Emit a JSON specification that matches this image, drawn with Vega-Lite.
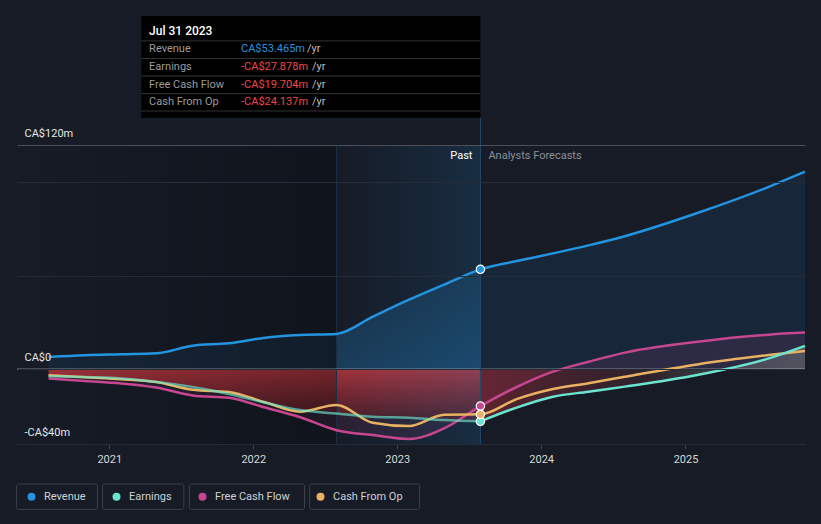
{
  "$schema": "https://vega.github.io/schema/vega-lite/v6.json",
  "width": 788,
  "height": 299,
  "autosize": {"type": "none"},
  "padding": {"left": 17, "top": 145, "right": 16, "bottom": 80},
  "background": "#161b26",
  "config": {
    "font": "Roboto",
    "view": {"stroke": null},
    "legend": {
      "orient": "none", "legendX": 9, "legendY": 346, "direction": "horizontal",
      "title": null, "symbolType": "circle", "symbolSize": 64, "symbolStrokeWidth": 0,
      "labelColor": "#cfd2d6", "labelFontSize": 11, "labelOffset": 7, "columnPadding": 25,
      "padding": 0, "labelFont": "Roboto"
    }
  },
  "datasets": {
    "ts": [
      {"date": "2020-07-31", "series": "Revenue", "value": 6.6},
      {"date": "2020-10-31", "series": "Revenue", "value": 7.5},
      {"date": "2021-01-31", "series": "Revenue", "value": 8.0},
      {"date": "2021-04-30", "series": "Revenue", "value": 8.5},
      {"date": "2021-07-31", "series": "Revenue", "value": 12.6},
      {"date": "2021-10-31", "series": "Revenue", "value": 13.9},
      {"date": "2022-01-31", "series": "Revenue", "value": 16.9},
      {"date": "2022-04-30", "series": "Revenue", "value": 18.3},
      {"date": "2022-07-31", "series": "Revenue", "value": 18.9},
      {"date": "2022-10-31", "series": "Revenue", "value": 28.1},
      {"date": "2023-01-31", "series": "Revenue", "value": 37.2},
      {"date": "2023-04-30", "series": "Revenue", "value": 45.3},
      {"date": "2023-07-31", "series": "Revenue", "value": 53.465},
      {"date": "2023-10-31", "series": "Revenue", "value": 57.9},
      {"date": "2024-01-31", "series": "Revenue", "value": 62.0},
      {"date": "2024-04-30", "series": "Revenue", "value": 66.3},
      {"date": "2024-07-31", "series": "Revenue", "value": 71.2},
      {"date": "2025-01-31", "series": "Revenue", "value": 83.6},
      {"date": "2025-07-31", "series": "Revenue", "value": 97.6},
      {"date": "2025-10-31", "series": "Revenue", "value": 105.7},
      {"date": "2020-07-31", "series": "Earnings", "value": -3.7},
      {"date": "2020-10-31", "series": "Earnings", "value": -4.2},
      {"date": "2021-01-31", "series": "Earnings", "value": -4.9},
      {"date": "2021-04-30", "series": "Earnings", "value": -6.8},
      {"date": "2021-07-31", "series": "Earnings", "value": -9.5},
      {"date": "2021-10-31", "series": "Earnings", "value": -13.2},
      {"date": "2022-01-31", "series": "Earnings", "value": -17.9},
      {"date": "2022-04-30", "series": "Earnings", "value": -21.8},
      {"date": "2022-07-31", "series": "Earnings", "value": -23.7},
      {"date": "2022-10-31", "series": "Earnings", "value": -25.4},
      {"date": "2023-01-31", "series": "Earnings", "value": -25.9},
      {"date": "2023-04-30", "series": "Earnings", "value": -27.2},
      {"date": "2023-07-31", "series": "Earnings", "value": -27.878},
      {"date": "2023-10-31", "series": "Earnings", "value": -20.5},
      {"date": "2024-01-31", "series": "Earnings", "value": -14.7},
      {"date": "2024-04-30", "series": "Earnings", "value": -12.0},
      {"date": "2024-07-31", "series": "Earnings", "value": -9.3},
      {"date": "2025-01-31", "series": "Earnings", "value": -3.1},
      {"date": "2025-07-31", "series": "Earnings", "value": 5.8},
      {"date": "2025-10-31", "series": "Earnings", "value": 12.5},
      {"date": "2020-07-31", "series": "Free Cash Flow", "value": -5.0},
      {"date": "2020-10-31", "series": "Free Cash Flow", "value": -6.3},
      {"date": "2021-01-31", "series": "Free Cash Flow", "value": -7.6},
      {"date": "2021-04-30", "series": "Free Cash Flow", "value": -9.8},
      {"date": "2021-07-31", "series": "Free Cash Flow", "value": -14.0},
      {"date": "2021-10-31", "series": "Free Cash Flow", "value": -15.3},
      {"date": "2022-01-31", "series": "Free Cash Flow", "value": -20.5},
      {"date": "2022-04-30", "series": "Free Cash Flow", "value": -25.7},
      {"date": "2022-07-31", "series": "Free Cash Flow", "value": -32.6},
      {"date": "2022-10-31", "series": "Free Cash Flow", "value": -35.2},
      {"date": "2023-01-31", "series": "Free Cash Flow", "value": -37.3},
      {"date": "2023-04-30", "series": "Free Cash Flow", "value": -31.6},
      {"date": "2023-07-31", "series": "Free Cash Flow", "value": -19.704},
      {"date": "2023-10-31", "series": "Free Cash Flow", "value": -9.5},
      {"date": "2024-01-31", "series": "Free Cash Flow", "value": -1.3},
      {"date": "2024-04-30", "series": "Free Cash Flow", "value": 4.0},
      {"date": "2024-07-31", "series": "Free Cash Flow", "value": 8.9},
      {"date": "2025-01-31", "series": "Free Cash Flow", "value": 14.7},
      {"date": "2025-07-31", "series": "Free Cash Flow", "value": 18.5},
      {"date": "2025-10-31", "series": "Free Cash Flow", "value": 19.6},
      {"date": "2020-07-31", "series": "Cash From Op", "value": -3.2},
      {"date": "2020-10-31", "series": "Cash From Op", "value": -4.3},
      {"date": "2021-01-31", "series": "Cash From Op", "value": -5.3},
      {"date": "2021-04-30", "series": "Cash From Op", "value": -6.8},
      {"date": "2021-07-31", "series": "Cash From Op", "value": -11.0},
      {"date": "2021-10-31", "series": "Cash From Op", "value": -12.2},
      {"date": "2022-01-31", "series": "Cash From Op", "value": -17.7},
      {"date": "2022-04-30", "series": "Cash From Op", "value": -22.7},
      {"date": "2022-07-31", "series": "Cash From Op", "value": -19.1},
      {"date": "2022-10-31", "series": "Cash From Op", "value": -28.6},
      {"date": "2023-01-31", "series": "Cash From Op", "value": -30.4},
      {"date": "2023-04-30", "series": "Cash From Op", "value": -24.3},
      {"date": "2023-07-31", "series": "Cash From Op", "value": -24.137},
      {"date": "2023-10-31", "series": "Cash From Op", "value": -16.0},
      {"date": "2024-01-31", "series": "Cash From Op", "value": -10.6},
      {"date": "2024-04-30", "series": "Cash From Op", "value": -7.5},
      {"date": "2024-07-31", "series": "Cash From Op", "value": -4.0},
      {"date": "2025-01-31", "series": "Cash From Op", "value": 2.6},
      {"date": "2025-07-31", "series": "Cash From Op", "value": 7.6},
      {"date": "2025-10-31", "series": "Cash From Op", "value": 9.8}
    ],
    "tip": [
      {"date": "2023-07-31", "series": "Revenue", "value": 53.465, "label": "Revenue", "val": "CA$53.465m", "ty": 171.4},
      {"date": "2023-07-31", "series": "Earnings", "value": -27.878, "label": "Earnings", "val": "-CA$27.878m", "ty": 161.8},
      {"date": "2023-07-31", "series": "Free Cash Flow", "value": -19.704, "label": "Free Cash Flow", "val": "-CA$19.704m", "ty": 152.1},
      {"date": "2023-07-31", "series": "Cash From Op", "value": -24.137, "label": "Cash From Op", "val": "-CA$24.137m", "ty": 143.0}
    ],
    "seps": [{"sy": 175.7}, {"sy": 166.3}, {"sy": 156.9}, {"sy": 147.5}, {"sy": 138.2}],
    "boxes": [
      {"b0": "2020-05-11", "b1": "2020-12-02"},
      {"b0": "2020-12-15", "b1": "2021-07-09"},
      {"b0": "2021-07-23", "b1": "2022-05-11"},
      {"b0": "2022-05-24", "b1": "2023-02-27"}
    ],
    "one": [{}]
  },
  "layer": [
    {
      "data": {"name": "ts"},
      "transform": [{"filter": "datum.series === 'Revenue'"}],
      "mark": {"type": "area", "interpolate": "monotone", "color": "#2394df", "opacity": 0.1},
      "encoding": {
        "x": {
          "field": "date", "type": "temporal",
          "scale": {"domain": [1589241600000, 1761868800000]},
          "axis": {
            "format": "%Y", "tickCount": {"interval": "year", "step": 1}, "grid": false,
            "domainColor": "#3c414b", "tickColor": "#3c414b", "tickSize": 5,
            "labelColor": "#d9d9d9", "labelFontSize": 11, "labelPadding": 4, "title": null, "labelFlush": false
          }
        },
        "y": {
          "field": "value", "type": "quantitative",
          "scale": {"domain": [-40, 120], "nice": false, "zero": false},
          "axis": {
            "values": [-40, 0, 50, 100, 120], "grid": true,
            "gridColor": {"condition": {"test": "datum.value === 120", "value": "#4a4f59"}, "value": "#262c37"},
            "labelExpr": "datum.value === 120 ? 'CA$120m' : datum.value === 0 ? 'CA$0' : datum.value === -40 ? '-CA$40m' : ''",
            "domain": false, "ticks": false, "labelAlign": "left", "labelPadding": -7,
            "labelBaseline": "alphabetic", "labelOffset": -9, "labelColor": "#e6e6e6",
            "labelFontSize": 11, "title": null, "zindex": 1, "labelFlush": false, "labelOverlap": false, "labelBound": false
          }
        },
        "y2": {"datum": 0}
      }
    },
    {
      "data": {"name": "ts"},
      "transform": [{"filter": "datum.series === 'Free Cash Flow'"}],
      "mark": {"type": "area", "interpolate": "monotone", "color": "#c6478f", "opacity": 0.12},
      "encoding": {
        "x": {"field": "date", "type": "temporal"},
        "y": {"field": "value", "type": "quantitative"},
        "y2": {"datum": 0}
      }
    },
    {
      "data": {"name": "ts"},
      "transform": [{"filter": "datum.series === 'Earnings' && time(datum.date) <= time('2023-07-31')"}],
      "mark": {
        "type": "area", "interpolate": "monotone",
        "fill": {"gradient": "linear", "x1": 0, "y1": 0, "x2": 0, "y2": 1,
          "stops": [{"offset": 0, "color": "#a1313a"}, {"offset": 1, "color": "#421c26"}]}
      },
      "encoding": {
        "x": {"field": "date", "type": "temporal"},
        "y": {"field": "value", "type": "quantitative"},
        "y2": {"datum": 0}
      }
    },
    {
      "data": {"name": "ts"},
      "transform": [{"filter": "datum.series === 'Earnings' && time(datum.date) >= time('2023-07-31')"}],
      "mark": {
        "type": "area", "interpolate": "monotone",
        "fill": {"gradient": "linear", "x1": 0, "y1": 0, "x2": 1, "y2": 0,
          "stops": [
            {"offset": 0, "color": "rgba(160,42,52,0.5)"},
            {"offset": 0.5, "color": "rgba(120,50,60,0.25)"},
            {"offset": 0.7, "color": "rgba(128,128,128,0.3)"},
            {"offset": 1, "color": "rgba(128,128,128,0.45)"}
          ]}
      },
      "encoding": {
        "x": {"field": "date", "type": "temporal"},
        "y": {"field": "value", "type": "quantitative"},
        "y2": {"datum": 0}
      }
    },
    {
      "data": {"name": "one"},
      "mark": {
        "type": "rect",
        "fill": {"gradient": "linear", "x1": 0, "y1": 0, "x2": 1, "y2": 0,
          "stops": [{"offset": 0, "color": "rgba(0,0,0,0)"}, {"offset": 1, "color": "rgba(0,0,0,0.28)"}]}
      },
      "encoding": {
        "x": {"datum": 1589241600000, "type": "temporal"},
        "x2": {"datum": 1659225600000},
        "y": {"datum": 120},
        "y2": {"datum": -40}
      }
    },
    {
      "data": {"name": "one"},
      "mark": {
        "type": "rect",
        "fill": {"gradient": "linear", "x1": 0, "y1": 0, "x2": 1, "y2": 0,
          "stops": [{"offset": 0, "color": "rgba(35,148,223,0.0)"}, {"offset": 1, "color": "rgba(35,148,223,0.15)"}]}
      },
      "encoding": {
        "x": {"datum": 1659225600000, "type": "temporal"},
        "x2": {"datum": 1690761600000},
        "y": {"datum": 120},
        "y2": {"datum": -40}
      }
    },
    {
      "data": {"name": "ts"},
      "transform": [{"filter": "datum.series === 'Revenue' && time(datum.date) >= time('2022-07-31') && time(datum.date) <= time('2023-07-31')"}],
      "mark": {
        "type": "area", "interpolate": "monotone",
        "fill": {"gradient": "linear", "x1": 0, "y1": 0, "x2": 0, "y2": 1,
          "stops": [{"offset": 0, "color": "rgba(35,148,223,0.06)"}, {"offset": 1, "color": "rgba(35,148,223,0.2)"}]}
      },
      "encoding": {
        "x": {"field": "date", "type": "temporal"},
        "y": {"field": "value", "type": "quantitative"},
        "y2": {"datum": 0}
      }
    },
    {
      "data": {"name": "one"},
      "mark": {"type": "rule", "color": "#1b3045", "strokeWidth": 1},
      "encoding": {
        "x": {"datum": 1659225600000, "type": "temporal"},
        "y": {"datum": 120},
        "y2": {"datum": -40}
      }
    },
    {
      "data": {"name": "one"},
      "mark": {"type": "rule", "color": "#ffffff", "opacity": 0.85, "strokeWidth": 1},
      "encoding": {"y": {"datum": 0}}
    },
    {
      "data": {"name": "ts"},
      "transform": [{"filter": "datum.series !== 'Earnings'"}],
      "mark": {"type": "line", "interpolate": "monotone", "strokeWidth": 2.5},
      "encoding": {
        "x": {"field": "date", "type": "temporal"},
        "y": {"field": "value", "type": "quantitative"},
        "color": {
          "field": "series", "type": "nominal",
          "scale": {"domain": ["Revenue", "Earnings", "Free Cash Flow", "Cash From Op"],
                    "range": ["#2394df", "#6ce5d0", "#c6478f", "#e9b262"]},
          "legend": {}
        }
      }
    },
    {
      "data": {"name": "ts"},
      "transform": [{"filter": "datum.series === 'Earnings' && time(datum.date) <= time('2023-07-31')"}],
      "mark": {"type": "line", "interpolate": "monotone", "strokeWidth": 2.5, "opacity": 0.65},
      "encoding": {
        "x": {"field": "date", "type": "temporal"},
        "y": {"field": "value", "type": "quantitative"},
        "color": {"field": "series", "type": "nominal", "legend": null}
      }
    },
    {
      "data": {"name": "ts"},
      "transform": [{"filter": "datum.series === 'Earnings' && time(datum.date) >= time('2023-07-31')"}],
      "mark": {"type": "line", "interpolate": "monotone", "strokeWidth": 2.5},
      "encoding": {
        "x": {"field": "date", "type": "temporal"},
        "y": {"field": "value", "type": "quantitative"},
        "color": {"field": "series", "type": "nominal", "legend": null}
      }
    },
    {
      "data": {"name": "one"},
      "mark": {"type": "rule", "color": "#26496a", "strokeWidth": 1},
      "encoding": {
        "x": {"datum": 1690761600000, "type": "temporal"},
        "y": {"datum": -40},
        "y2": {"datum": 134.6}
      }
    },
    {
      "data": {"name": "tip"},
      "mark": {"type": "point", "filled": true, "size": 70, "stroke": "#ffffff", "strokeWidth": 1.2, "opacity": 1},
      "encoding": {
        "x": {"field": "date", "type": "temporal"},
        "y": {"field": "value", "type": "quantitative"},
        "color": {"field": "series", "type": "nominal", "legend": null}
      }
    },
    {
      "data": {"name": "one"},
      "mark": {"type": "text", "text": "Past", "align": "right", "baseline": "middle", "dx": -8, "fontSize": 11, "color": "#ffffff"},
      "encoding": {
        "x": {"datum": 1690761600000, "type": "temporal"},
        "y": {"datum": 114.1}
      }
    },
    {
      "data": {"name": "one"},
      "mark": {"type": "text", "text": "Analysts Forecasts", "align": "left", "baseline": "middle", "dx": 8, "fontSize": 11, "color": "#8b9099"},
      "encoding": {
        "x": {"datum": 1690761600000, "type": "temporal"},
        "y": {"datum": 114.1}
      }
    },
    {
      "data": {"name": "one"},
      "mark": {"type": "rect", "color": "#000000", "opacity": 1},
      "encoding": {
        "x": {"datum": 1616457600000, "type": "temporal"},
        "x2": {"datum": 1690761600000},
        "y": {"datum": 189.0},
        "y2": {"datum": 134.6}
      }
    },
    {
      "data": {"name": "seps"},
      "mark": {"type": "rule", "color": "#333333", "strokeWidth": 1},
      "encoding": {
        "x": {"datum": 1616457600000, "type": "temporal"},
        "x2": {"datum": 1690761600000},
        "y": {"field": "sy", "type": "quantitative"}
      }
    },
    {
      "data": {"name": "one"},
      "mark": {"type": "text", "text": "Jul 31 2023", "align": "left", "baseline": "middle", "fontSize": 12, "fontWeight": 500, "color": "#ffffff"},
      "encoding": {
        "x": {"datum": 1618185600000, "type": "temporal"},
        "y": {"datum": 181.0}
      }
    },
    {
      "data": {"name": "tip"},
      "mark": {"type": "text", "align": "left", "baseline": "middle", "fontSize": 11, "color": "#9b9b9b"},
      "encoding": {
        "x": {"datum": 1618185600000, "type": "temporal"},
        "y": {"field": "ty", "type": "quantitative"},
        "text": {"field": "label"}
      }
    },
    {
      "data": {"name": "tip"},
      "mark": {"type": "text", "align": "left", "baseline": "middle", "fontSize": 11},
      "encoding": {
        "x": {"datum": 1638316800000, "type": "temporal"},
        "y": {"field": "ty", "type": "quantitative"},
        "text": {"field": "val"},
        "color": {"condition": {"test": "indexof(datum.val, '-') === 0", "value": "#f0474a"}, "value": "#2394df"}
      }
    },
    {
      "data": {"name": "tip"},
      "transform": [{"filter": "indexof(datum.val, '-') !== 0"}],
      "mark": {"type": "text", "text": "/yr", "align": "left", "baseline": "middle", "fontSize": 11, "color": "#bdbdbd", "dx": 66},
      "encoding": {
        "x": {"datum": 1638316800000, "type": "temporal"},
        "y": {"field": "ty", "type": "quantitative"}
      }
    },
    {
      "data": {"name": "tip"},
      "transform": [{"filter": "indexof(datum.val, '-') === 0"}],
      "mark": {"type": "text", "text": "/yr", "align": "left", "baseline": "middle", "fontSize": 11, "color": "#bdbdbd", "dx": 71},
      "encoding": {
        "x": {"datum": 1638316800000, "type": "temporal"},
        "y": {"field": "ty", "type": "quantitative"}
      }
    },
    {
      "data": {"name": "boxes"},
      "mark": {"type": "rect", "fill": "transparent", "stroke": "#3b414c", "strokeWidth": 1, "cornerRadius": 2},
      "encoding": {
        "x": {"field": "b0", "type": "temporal"},
        "x2": {"field": "b1"},
        "y": {"datum": -61.4},
        "y2": {"datum": -75.0}
      }
    }
  ]
}
